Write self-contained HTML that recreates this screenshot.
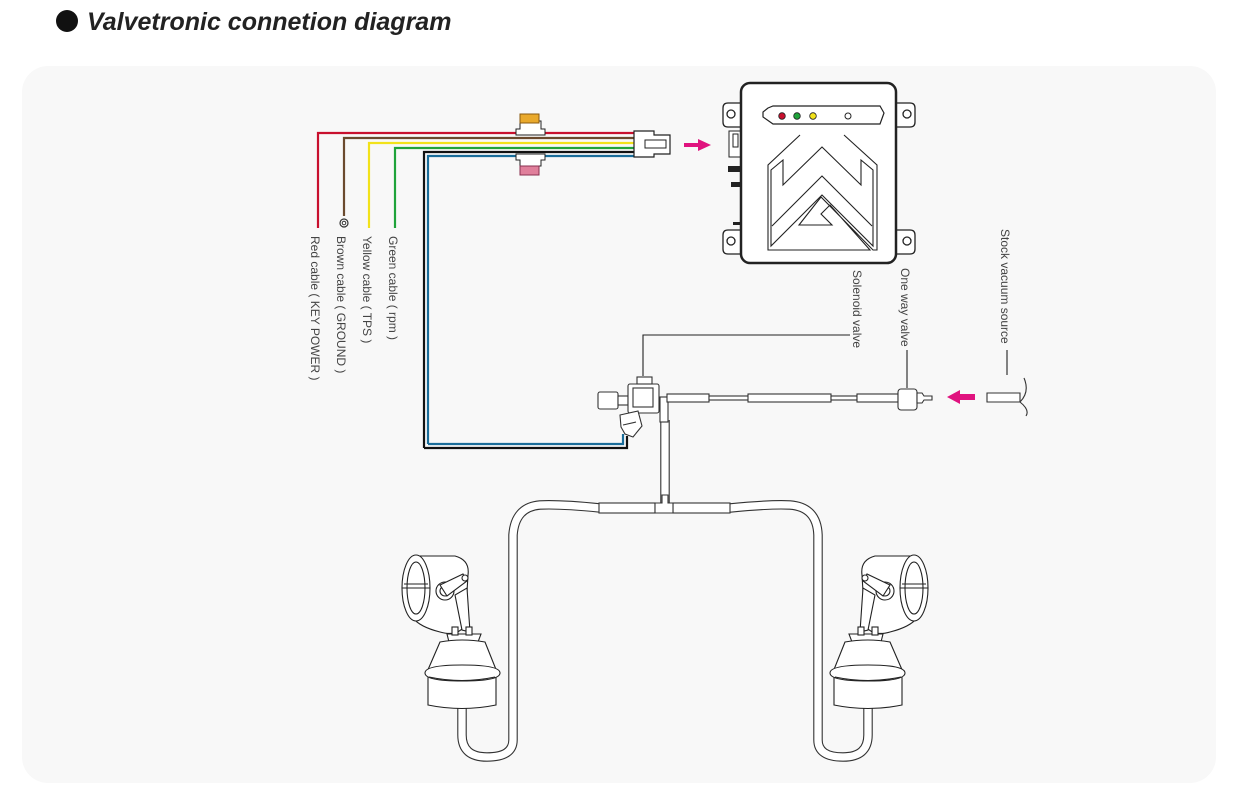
<!DOCTYPE html>
<html><head><meta charset="utf-8"><style>
html,body{margin:0;padding:0;background:#fff;width:1238px;height:802px;overflow:hidden}
svg{display:block}
text{font-family:"Liberation Sans",sans-serif}
</style></head><body>
<svg width="1238" height="802" viewBox="0 0 1238 802" xmlns="http://www.w3.org/2000/svg">
<circle cx="67" cy="21" r="11" fill="#111"/>
<text x="87" y="30" font-size="25" font-style="italic" font-weight="bold" fill="#222">Valvetronic connetion diagram</text>
<rect x="22" y="66" width="1194" height="717" rx="26" fill="#f8f8f8"/>

<!-- wires -->
<g fill="none" stroke-width="2.2">
<path d="M318 228 V133 H636" stroke="#c8102e"/>
<path d="M344 216 V138 H636" stroke="#6b4a2e"/>
<path d="M369 228 V143 H636" stroke="#f2e21a"/>
<path d="M395 228 V148 H636" stroke="#1fa33a"/>
<path d="M424 448 V152 H636 M424 448 H627 V436" stroke="#111"/>
<path d="M428 444 V156 H636 M428 444 H623 V434" stroke="#1a6d9a"/>
</g>
<circle cx="344" cy="223" r="4" fill="#fff" stroke="#333" stroke-width="1.2"/>
<circle cx="344" cy="223" r="1.8" fill="none" stroke="#333" stroke-width="1"/>
<!-- fuses -->
<path d="M516 135 V129 H520 V121 H541 V129 H545 V135 Z" fill="#fff" stroke="#222" stroke-width="1"/>
<rect x="520" y="114" width="19" height="9" fill="#e9a92c" stroke="#8a5a10" stroke-width="1"/>
<path d="M516 154 V160 H520 V166 H541 V160 H545 V154 Z" fill="#fff" stroke="#222" stroke-width="1"/>
<rect x="520" y="166" width="19" height="9" fill="#e07f9b" stroke="#8a3050" stroke-width="1"/>
<!-- connector -->
<path d="M634 131 H654 V135 H670 V154 H654 V157 H634 Z" fill="#fff" stroke="#222" stroke-width="1.2"/>
<rect x="645" y="140" width="21" height="8" fill="#fff" stroke="#222" stroke-width="1"/>
<!-- arrow -->
<path d="M684 143 H698 V139 L711 145 L698 151 V147 H684 Z" fill="#e0137f"/>

<!-- controller -->
<g stroke="#222" fill="#fff" stroke-width="1.3">
<path d="M741 103 H728 Q723 103 723 108 V122 Q723 127 728 127 H741 Z"/>
<path d="M741 230 H728 Q723 230 723 235 V249 Q723 254 728 254 H741 Z"/>
<path d="M896 103 H910 Q915 103 915 108 V122 Q915 127 910 127 H896 Z"/>
<path d="M896 230 H910 Q915 230 915 235 V249 Q915 254 910 254 H896 Z"/>
<circle cx="731" cy="114" r="4"/><circle cx="731" cy="241" r="4"/>
<circle cx="907" cy="114" r="4"/><circle cx="907" cy="241" r="4"/>
<rect x="729" y="131" width="12" height="26" stroke-width="1"/>
<rect x="741" y="83" width="155" height="180" rx="9" stroke-width="2.5"/>
<path d="M768 108 L773 106 H880 L884 113 L880 124 H773 L763 117 L763 112 Z" stroke-width="1.2"/>
</g>
<rect x="733" y="134" width="5" height="13" fill="#fff" stroke="#222" stroke-width="1"/>
<rect x="728" y="166" width="13" height="6" fill="#222"/>
<rect x="731" y="182" width="10" height="5" fill="#222"/>
<rect x="733" y="222" width="8" height="3" fill="#222"/>
<circle cx="782" cy="116" r="3.3" fill="#c8102e" stroke="#222" stroke-width=".8"/>
<circle cx="797" cy="116" r="3.3" fill="#1fa33a" stroke="#222" stroke-width=".8"/>
<circle cx="813" cy="116" r="3.3" fill="#f2e21a" stroke="#222" stroke-width=".8"/>
<circle cx="848" cy="116" r="3" fill="#fff" stroke="#222" stroke-width="1"/>
<g fill="none" stroke="#222" stroke-width="1.1">
<path d="M800 135 L768 165 V250 H870 L830 205 L821 214 L832 225 H799 L821 197 L873 250 H877 V165 L844 135"/>
<path d="M771 170 L783 160 V185 L822 147 L861 185 V160 L873 170 V246 L822 195 L771 246 Z"/>
<path d="M772 226 L822 176 L872 226"/>
</g>

<!-- labels -->
<g font-size="12" fill="#444">
<text transform="translate(311,236) rotate(90)">Red cable ( KEY POWER )</text>
<text transform="translate(337,236) rotate(90)">Brown cable ( GROUND )</text>
<text transform="translate(363,236) rotate(90)">Yellow cable ( TPS )</text>
<text transform="translate(389,236) rotate(90)">Green cable ( rpm )</text>
<text transform="translate(853,270) rotate(90)">Solenoid valve</text>
<text transform="translate(901,268) rotate(90)">One way valve</text>
<text transform="translate(1001,229) rotate(90)">Stock vacuum source</text>
</g>
<g stroke="#222" stroke-width="1.1" fill="none">
<path d="M850 335 H643 V376"/>
<path d="M907 350 V388"/>
<path d="M1007 350 V375"/>
</g>

<!-- hoses (double line) -->
<g fill="none" stroke-linecap="butt">
<g stroke="#333" stroke-width="9.5">
<path d="M600 508 Q560 504 540 505 Q515 507 513 535 V740 Q513 757 487 757 Q462 757 462 735 V705"/>
<path d="M730 508 Q770 504 790 505 Q817 507 818 535 V740 Q818 757 843 757 Q868 757 868 735 V705"/>
<path d="M665 420 V503"/>
</g>
<g stroke="#fff" stroke-width="7.3">
<path d="M600 508 Q560 504 540 505 Q515 507 513 535 V740 Q513 757 487 757 Q462 757 462 735 V705"/>
<path d="M730 508 Q770 504 790 505 Q817 507 818 535 V740 Q818 757 843 757 Q868 757 868 735 V705"/>
<path d="M665 420 V503"/>
</g>
</g>
<g fill="#fff" stroke="#333" stroke-width="1.1">
<rect x="599" y="503" width="56" height="10"/>
<rect x="673" y="503" width="57" height="10"/>
<path d="M655 503 H662 V495 H668 V503 H673 V513 H655 Z"/>
<rect x="660" y="397" width="8" height="25"/>
<rect x="667" y="394" width="42" height="8"/>
<rect x="709" y="396" width="40" height="4"/>
<rect x="748" y="394" width="83" height="8"/>
<rect x="831" y="396" width="26" height="4"/>
<rect x="857" y="394" width="41" height="8"/>
<rect x="898" y="389" width="19" height="21" rx="3"/>
<path d="M917 393 H922 L924 396 H932 V400 H924 L922 403 H917 Z"/>
<path d="M987 393 H1020 V402 H987 Z"/>
<path d="M1020 402 Q1030 392 1024 378 M1020 402 Q1030 410 1026 416" fill="none"/>
<!-- solenoid -->
<rect x="598" y="392" width="20" height="17" rx="2"/>
<rect x="618" y="396" width="10" height="9"/>
<rect x="628" y="384" width="31" height="29" rx="2"/>
<rect x="633" y="388" width="20" height="19"/>
<rect x="637" y="377" width="15" height="7"/>
<path d="M620 415 L638 411 L642 426 L633 437 L625 434 L621 427 Z"/>
<path d="M623 425 L636 422"/>
</g>
<path d="M975 394 H960 V390 L947 397 L960 404 V400 H975 Z" fill="#e0137f"/>

<!-- actuator -->
<defs>
<g id="act" fill="#fff" stroke="#222" stroke-width="1.1">
<path d="M418 556 H455 Q470 560 468 575 L465 625 Q458 637 440 632 Q420 627 413 618 Z"/>
<ellipse cx="416" cy="588" rx="14" ry="33"/>
<ellipse cx="416" cy="588" rx="9" ry="26"/>
<path d="M402 588 H430 M404 584 H428"/>
<path d="M455 595 L462 630 L470 632 L467 588 Z"/>
<circle cx="445" cy="591" r="9"/>
<circle cx="445" cy="591" r="5"/>
<path d="M440 585 L463 574 L467 581 L447 596 Z"/>
<circle cx="465" cy="578" r="3"/>
<path d="M447 634 H481 L478 642 H449 Z"/>
<rect x="452" y="627" width="6" height="8"/><rect x="466" y="627" width="6" height="8"/>
<path d="M440 642 Q462 638 485 642 L497 672 H427 Z"/>
<path d="M428 672 V705 Q462 712 496 705 V672"/>
<path d="M425 673 Q425 665 462 665 Q500 665 500 673 Q500 681 462 681 Q425 681 425 673 Z"/>
<path d="M429 677 Q462 684 495 677" fill="none"/>
</g>
</defs>
<use href="#act"/>
<use href="#act" transform="translate(1330,0) scale(-1,1)"/>
</svg>
</body></html>
